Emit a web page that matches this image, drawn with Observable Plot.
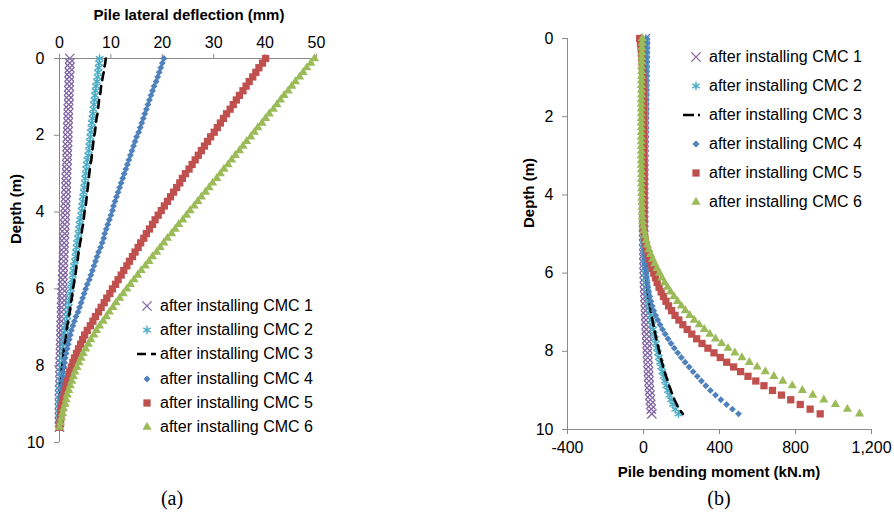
<!DOCTYPE html>
<html><head><meta charset="utf-8">
<script src="https://cdn.jsdelivr.net/npm/d3@7"></script>
<script src="https://cdn.jsdelivr.net/npm/@observablehq/plot@0.6"></script>
<style>
html,body{margin:0;padding:0;background:#fff;}
#root{position:relative;width:894px;height:518px;font-family:"Liberation Sans",Arial,Helvetica,sans-serif;color:#000;overflow:hidden}
.abs{position:absolute;white-space:nowrap}
.title{font-weight:bold;font-size:15px;line-height:18px}
.cap{font-family:"Liberation Serif","Times New Roman",serif;font-size:20px;line-height:22px}
.leg{font-size:16px;line-height:18px}
svg{overflow:visible}
</style></head><body><div id="root"></div>
<script>
// ---------------- DATA ----------------
const depth = [
 0, 0.12, 0.24, 0.36, 0.48, 0.6, 0.72, 0.84, 0.96, 1.08,
 1.2, 1.32, 1.44, 1.56, 1.68, 1.8, 1.92, 2.04, 2.16, 2.28,
 2.4, 2.52, 2.64, 2.76, 2.88, 3.0, 3.12, 3.24, 3.36, 3.48,
 3.6, 3.72, 3.84, 3.96, 4.08, 4.2, 4.32, 4.44, 4.56, 4.68,
 4.8, 4.92, 5.04, 5.16, 5.28, 5.4, 5.52, 5.64, 5.76, 5.88,
 6.0, 6.12, 6.24, 6.36, 6.48, 6.6, 6.72, 6.84, 6.96, 7.08,
 7.2, 7.32, 7.44, 7.56, 7.68, 7.8, 7.92, 8.04, 8.16, 8.28,
 8.4, 8.52, 8.64, 8.76, 8.88, 9.0, 9.12, 9.24, 9.36, 9.48,
 9.6];

const seriesNames = ["after installing CMC 1","after installing CMC 2","after installing CMC 3",
                     "after installing CMC 4","after installing CMC 5","after installing CMC 6"];

// (a) Pile lateral deflection (mm)
const defl1 = [
 2.0,2.0,2.0,1.9,1.9,1.9,1.9,1.8,1.8,1.8,
 1.8,1.7,1.7,1.7,1.7,1.6,1.6,1.6,1.6,1.5,
 1.5,1.5,1.5,1.4,1.4,1.4,1.3,1.3,1.3,1.3,
 1.2,1.2,1.2,1.1,1.1,1.1,1.0,1.0,1.0,0.9,
 0.9,0.9,0.8,0.8,0.8,0.7,0.7,0.7,0.6,0.6,
 0.6,0.5,0.5,0.5,0.4,0.4,0.4,0.4,0.3,0.3,
 0.3,0.3,0.2,0.2,0.2,0.2,0.1,0.1,0.1,0.1,
 0.1,0.1,0.0,0.0,0.0,0.0,0.0,0.0,0.0,0.0,
 0.0];
const defl2 = [
 7.8,7.7,7.6,7.5,7.4,7.3,7.1,7.0,6.9,6.8,
 6.7,6.6,6.5,6.4,6.3,6.2,6.1,6.0,5.9,5.8,
 5.7,5.6,5.4,5.3,5.2,5.1,5.0,4.9,4.8,4.7,
 4.6,4.5,4.4,4.3,4.2,4.0,3.9,3.8,3.7,3.6,
 3.4,3.3,3.2,3.1,3.0,2.8,2.7,2.6,2.5,2.3,
 2.2,2.1,2.0,1.8,1.7,1.6,1.5,1.4,1.2,1.1,
 1.0,0.9,0.8,0.7,0.6,0.5,0.4,0.4,0.3,0.2,
 0.2,0.1,0.1,0.1,0.0,0.0,0.0,0.0,0.0,0.0,
 0.0];
const defl3 = [
 9.0,8.9,8.7,8.6,8.4,8.3,8.1,8.0,7.9,7.7,
 7.6,7.5,7.4,7.2,7.1,7.0,6.9,6.7,6.6,6.5,
 6.4,6.3,6.2,6.0,5.9,5.8,5.7,5.6,5.5,5.4,
 5.3,5.2,5.1,4.9,4.8,4.7,4.6,4.4,4.3,4.2,
 4.0,3.9,3.7,3.6,3.5,3.3,3.2,3.1,2.9,2.8,
 2.6,2.5,2.4,2.2,2.1,2.0,1.8,1.7,1.5,1.4,
 1.3,1.2,1.0,0.9,0.8,0.7,0.6,0.5,0.4,0.4,
 0.3,0.2,0.2,0.1,0.1,0.1,0.0,0.0,0.0,0.0,
 0.0];
const defl4 = [
 20.3,20.0,19.7,19.4,19.1,18.8,18.4,18.1,17.8,17.5,
 17.2,16.9,16.6,16.3,16.0,15.7,15.4,15.0,14.7,14.4,
 14.1,13.8,13.5,13.2,12.9,12.6,12.3,12.0,11.7,11.4,
 11.1,10.8,10.5,10.3,10.0,9.7,9.4,9.1,8.8,8.6,
 8.3,8.0,7.6,7.3,7.0,6.7,6.4,6.1,5.8,5.4,
 5.1,4.8,4.5,4.2,3.9,3.6,3.2,2.9,2.6,2.3,
 2.1,1.9,1.7,1.5,1.3,1.1,1.0,0.9,0.7,0.6,
 0.5,0.4,0.3,0.3,0.2,0.1,0.1,0.1,0.0,0.0,
 0.0];
const defl5 = [
 40.1,39.5,38.8,38.2,37.6,36.9,36.3,35.7,35.0,34.4,
 33.8,33.2,32.5,31.9,31.3,30.7,30.1,29.4,28.8,28.2,
 27.6,27.0,26.4,25.8,25.2,24.5,23.9,23.4,22.8,22.2,
 21.6,21.0,20.4,19.8,19.2,18.6,18.1,17.5,16.9,16.4,
 15.8,15.3,14.7,14.2,13.6,13.1,12.5,12.0,11.4,10.9,
 10.3,9.8,9.2,8.7,8.1,7.6,7.0,6.5,6.0,5.4,
 4.9,4.5,4.1,3.7,3.3,2.9,2.6,2.3,2.0,1.8,
 1.5,1.3,1.1,0.9,0.7,0.5,0.4,0.3,0.2,0.1,
 0.0];
const defl6 = [
 49.6,48.9,48.1,47.4,46.7,45.9,45.2,44.5,43.7,43.0,
 42.3,41.6,40.8,40.1,39.4,38.6,37.9,37.2,36.4,35.7,
 35.0,34.2,33.5,32.8,32.0,31.3,30.6,29.8,29.1,28.4,
 27.6,26.9,26.2,25.4,24.7,24.0,23.2,22.5,21.8,21.0,
 20.3,19.6,18.9,18.1,17.4,16.7,15.9,15.2,14.5,13.8,
 13.1,12.4,11.7,11.0,10.4,9.7,9.1,8.5,7.8,7.2,
 6.7,6.1,5.6,5.1,4.6,4.2,3.8,3.4,3.0,2.7,
 2.4,2.1,1.8,1.5,1.3,1.1,0.8,0.6,0.4,0.2,
 0.0];

// (b) Pile bending moment (kN.m)
const mom1 = [
 10,10,10,9,9,9,8,8,8,7,
 7,7,6,6,6,5,5,5,4,4,
 4,3,3,3,2,2,2,2,1,1,
 1,1,1,1,1,1,1,1,1,1,
 1,1,1,1,2,2,2,3,3,4,
 4,5,5,6,7,8,9,10,11,12,
 13,14,15,16,17,19,20,21,22,23,
 25,26,27,29,30,32,34,36,38,41,
 44];
const mom2 = [
 12,12,11,11,11,10,10,10,9,9,
 9,8,8,8,7,7,7,6,6,6,
 5,5,5,4,4,4,3,3,3,3,
 2,2,2,2,2,1,1,1,1,1,
 1,1,2,2,3,4,5,6,7,9,
 10,12,15,17,20,23,26,30,34,38,
 42,46,51,55,60,65,70,76,81,87,
 93,99,106,113,120,128,136,145,155,167,
 184];
const mom3 = [
 11,11,11,10,10,10,9,9,9,8,
 8,8,7,7,7,6,6,6,5,5,
 5,4,4,4,3,3,3,3,2,2,
 2,2,2,1,1,1,1,1,1,1,
 1,1,2,2,3,4,5,7,8,10,
 11,13,16,19,22,26,29,34,38,42,
 47,52,57,62,67,73,79,85,91,97,
 104,111,119,127,135,144,153,163,175,188,
 207];
const mom4 = [
 14,14,13,13,12,12,11,11,10,10,
 9,9,8,8,7,7,6,6,5,5,
 4,4,3,3,3,2,2,2,1,1,
 1,0,0,0,0,0,0,0,0,0,
 0,0,1,1,2,3,4,5,7,9,
 12,15,19,23,28,33,39,46,54,64,
 75,87,100,114,129,145,162,180,199,219,
 240,261,283,305,328,352,379,407,437,468,
 500];
const mom5 = [
 -20,-16,-13,-11,-9,-7,-6,-5,-4,-3,
 -3,-2,-2,-2,-1,-1,-1,-1,0,0,
 0,0,0,0,0,0,0,1,1,1,
 1,1,1,1,1,1,1,1,1,1,
 0,2,5,9,14,19,25,31,38,46,
 54,63,72,82,93,105,118,132,148,166,
 186,207,230,254,280,308,339,371,404,438,
 474,511,550,591,634,679,726,775,825,877,
 930];
const mom6 = [
 -6,-7,-8,-8,-9,-9,-10,-10,-10,-11,
 -11,-11,-11,-12,-12,-12,-12,-12,-12,-12,
 -12,-12,-12,-12,-12,-12,-12,-12,-11,-11,
 -11,-11,-10,-10,-9,-9,-8,-7,-6,-5,
 -3,2,8,14,21,29,38,48,59,71,
 84,97,111,126,142,160,179,199,220,243,
 267,293,320,349,379,411,445,481,518,557,
 598,641,686,733,783,836,891,949,1010,1073,
 1137];

const deflTicks = [0, 10, 20, 30, 40, 50];
const depthTicks = [0, 2, 4, 6, 8, 10];
const momTicks = [-400, 0, 400, 800, 1200];

// ---------------- STYLE ----------------
const font = '"Liberation Sans", Arial, Helvetica, sans-serif';
const axisGray = "#8a8a8a";
const colors = ["#8064A2", "#4BACC6", "#000000", "#4F81BD", "#C0504D", "#9BBB59"];
const markerStyles = [
  {symbol: "times", r: 4.3, filled: false, sw: 1.3},
  {symbol: "asterisk", r: 4.1, filled: false, sw: 1.4},
  null,
  {symbol: "diamond2", r: 3.1, filled: true},
  {symbol: "square", r: 4.1, filled: true},
  {symbol: "triangle", r: 3.4, filled: true}
];
const dashPattern = "8,6";

function markFor(vals, k) {
  const data = depth.map((d, i) => ({d, v: vals[i]}));
  if (k === 2) {
    return Plot.line(data, {x: "v", y: "d", stroke: colors[k], strokeWidth: 2.6, strokeDasharray: dashPattern});
  }
  const s = markerStyles[k];
  return Plot.dot(data, s.filled
    ? {x: "v", y: "d", symbol: s.symbol, r: s.r, fill: colors[k], stroke: "none"}
    : {x: "v", y: "d", symbol: s.symbol, r: s.r, fill: "none", stroke: colors[k], strokeWidth: s.sw});
}

const root = document.getElementById("root");
function put(el, left, top) {
  el.style.position = "absolute";
  el.style.left = left + "px";
  el.style.top = top + "px";
  root.appendChild(el);
  return el;
}
function textDiv(cls, txt) {
  const d = document.createElement("div");
  d.className = "abs " + cls;
  d.textContent = txt;
  return d;
}

// ---------------- PANEL (a) ----------------
const plotA = Plot.plot({
  width: 447, height: 460,
  marginLeft: 59, marginRight: 131, marginTop: 58, marginBottom: 18,
  style: {fontFamily: font, fontSize: "16px", color: "#000", background: "transparent", overflow: "visible"},
  x: {domain: [0, 50]},
  y: {domain: [0, 10], reverse: true},
  marks: [
    Plot.ruleX([0], {stroke: axisGray}),
    Plot.ruleY([0], {stroke: axisGray}),
    Plot.axisX({anchor: "top", ticks: deflTicks, tickSize: 5, tickPadding: 6, stroke: axisGray, fill: "#000", label: null}),
    Plot.axisY({anchor: "left", ticks: depthTicks, tickSize: 5, tickPadding: 10, stroke: axisGray, fill: "#000", label: null}),
    ...[defl1, defl2, defl3, defl4, defl5, defl6].map(markFor)
  ]
});
put(plotA, 0, 0);

// ---------------- PANEL (b) ----------------
const plotB = Plot.plot({
  width: 447, height: 460,
  marginLeft: 120, marginRight: 23, marginTop: 38, marginBottom: 31,
  style: {fontFamily: font, fontSize: "16px", color: "#000", background: "transparent", overflow: "visible"},
  x: {domain: [-400, 1200]},
  y: {domain: [0, 10], reverse: true},
  marks: [
    Plot.ruleX([-400], {stroke: axisGray}),
    Plot.ruleY([10], {stroke: axisGray}),
    Plot.axisX({anchor: "bottom", ticks: momTicks, tickSize: 5, tickPadding: 7, stroke: axisGray, fill: "#000", label: null,
                tickFormat: d => d.toLocaleString("en-US")}),
    Plot.axisY({anchor: "left", ticks: depthTicks, tickSize: 5, tickPadding: 9, stroke: axisGray, fill: "#000", label: null}),
    ...[mom1, mom2, mom3, mom4, mom5, mom6].map(markFor)
  ]
});
put(plotB, 447, 0);

// ---------------- TITLES ----------------
function centered(cls, txt, cx, cy, rotate) {
  const d = textDiv(cls, txt);
  d.style.transform = "translate(-50%,-50%)" + (rotate ? " rotate(-90deg)" : "");
  put(d, cx, cy);
}
centered("title", "Pile lateral deflection (mm)", 189, 15);
centered("title", "Depth (m)", 16, 209, true);
centered("title", "Depth (m)", 529, 193, true);
centered("title", "Pile bending moment (kN.m)", 719, 472);
centered("cap", "(a)", 172, 498);
centered("cap", "(b)", 719, 498);

// ---------------- LEGENDS ----------------
const symbolMap = {times: d3.symbolTimes, asterisk: d3.symbolAsterisk, diamond2: d3.symbolDiamond2, square: d3.symbolSquare, triangle: d3.symbolTriangle};
function legend(markerX, textX, rowsY, lineFrom, lineTo, lineDash) {
  seriesNames.forEach((name, k) => {
    const y = rowsY[k];
    const svg = d3.create("svg").attr("width", 30).attr("height", 18).style("overflow", "visible");
    const ox = markerX - 15;
    if (k === 2) {
      svg.append("line").attr("x1", lineFrom - ox).attr("x2", lineTo - ox).attr("y1", 9).attr("y2", 9)
        .attr("stroke", colors[k]).attr("stroke-width", 2.6).attr("stroke-dasharray", lineDash);
    } else {
      const s = markerStyles[k];
      const p = d3.symbol(symbolMap[s.symbol], Math.PI * s.r * s.r)();
      const path = svg.append("path").attr("d", p).attr("transform", "translate(15,9)");
      if (s.filled) path.attr("fill", colors[k]);
      else path.attr("fill", "none").attr("stroke", colors[k]).attr("stroke-width", s.sw);
    }
    put(svg.node(), ox, y - 9);
    put(textDiv("leg", name), textX, y - 9);
  });
}
legend(147, 160, [306, 330, 354, 379, 403, 427], 137, 156, "9,5");
legend(696, 709, [57, 86, 115, 144, 173, 202], 683, 700, "11,4");
</script>
</body></html>
